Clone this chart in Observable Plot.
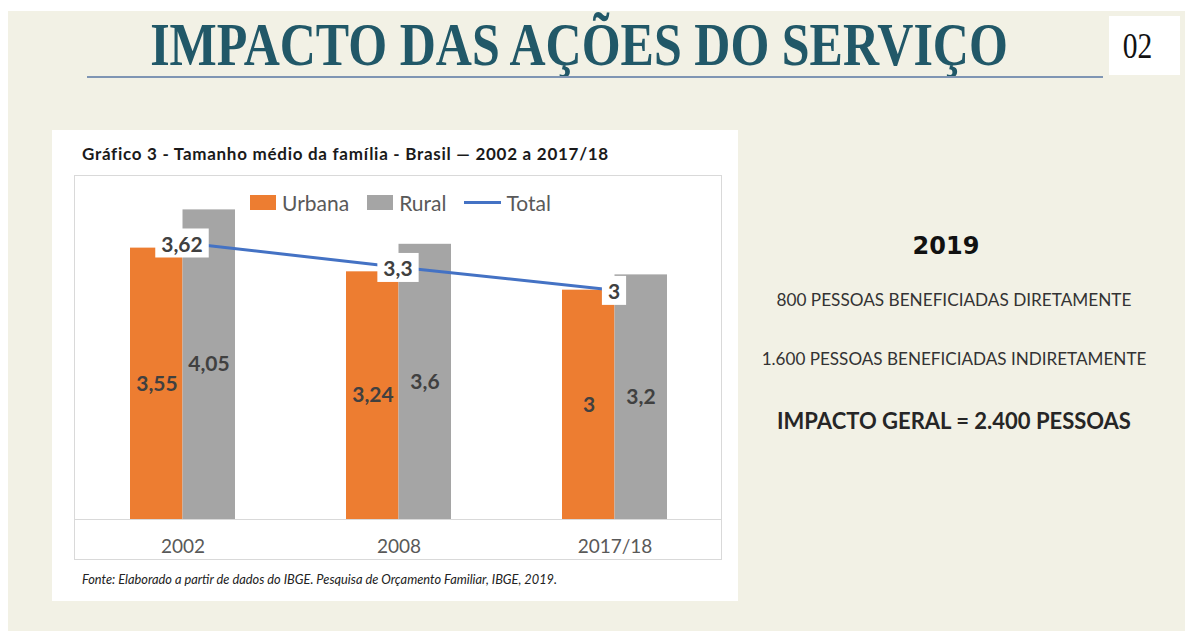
<!DOCTYPE html>
<html>
<head>
<meta charset="utf-8">
<script src="https://cdn.jsdelivr.net/npm/d3@7"></script>
<script src="https://cdn.jsdelivr.net/npm/@observablehq/plot@0.6"></script>
<style>
  html, body { margin: 0; padding: 0; }
  body { width: 1185px; height: 631px; background: #ffffff; position: relative; overflow: hidden; font-family: Lato, "Open Sans", sans-serif; }
  .abs { position: absolute; }
  #bg { left: 8px; top: 11px; right: 0; bottom: 0; background: #f2f1e5; }
  #numbox { left: 1109px; top: 16px; width: 71px; height: 59px; background: #fff; }
  #numtxt { position: absolute; left: 0; top: 0; width: 57px; height: 59px; font-family: "Liberation Serif", serif; font-size: 36px; color: #111; display: flex; align-items: center; justify-content: center; transform: scaleX(0.82); }
  #panel { left: 52px; top: 130px; width: 686px; height: 471px; background: #fff; }
  #ctitle { left: 82px; top: 143px; font-family: Lato, sans-serif; font-weight: bold; font-size: 17px; letter-spacing: 0.72px; color: #1a1a1a; white-space: nowrap; }
  #chart { left: 74px; top: 175px; width: 648px; height: 385px; }
  #frame { left: 74px; top: 175px; width: 648px; height: 385px; box-sizing: border-box; border: 1px solid #d9d9d9; pointer-events: none; }
  #legend { left: 250px; top: 189px; height: 26px; display: flex; align-items: center; font-family: Lato, sans-serif; font-size: 21px; color: #595959; white-space: nowrap; }
  .sw { display: inline-block; width: 26px; height: 15px; margin-right: 6px; }
  .ln { display: inline-block; width: 37px; height: 3px; margin-right: 5px; }
  .item { display: inline-flex; align-items: center; margin-right: 18px; }
  #source { left: 82px; top: 571px; font-family: Lato, sans-serif; font-style: italic; font-size: 12.8px; color: #222; white-space: nowrap; }
  .rt { left: 740px; width: 428px; text-align: center; white-space: nowrap; }
  #y2019 { top: 232px; width: 412px; font-family: "DejaVu Sans", sans-serif; font-weight: bold; font-size: 24px; color: #111; }
  #l1 { top: 289px; font-family: Lato, sans-serif; font-size: 17.2px; color: #333; }
  #l2 { top: 348px; font-family: Lato, sans-serif; font-size: 17.1px; color: #333; }
  #l3 { top: 407px; font-family: Lato, sans-serif; font-weight: bold; font-size: 22px; color: #262626; }
</style>
</head>
<body>
<div id="bg" class="abs"></div>
<svg class="abs" style="left:0;top:0" width="1105" height="90">
  <text id="maintitle" transform="translate(579,65)" text-anchor="middle" font-family="Liberation Serif, serif" font-weight="bold" font-size="62" fill="#215868"></text>
  <line x1="87" x2="1103" y1="77" y2="77" stroke="#7f95b3" stroke-width="2"/>
</svg>
<div id="numbox" class="abs"><div id="numtxt"></div></div>
<div id="panel" class="abs"></div>
<div id="ctitle" class="abs"></div>
<div id="chart" class="abs"></div>
<div id="frame" class="abs"></div>
<div id="legend" class="abs"></div>
<div id="source" class="abs"></div>
<div id="y2019" class="abs rt"></div>
<div id="l1" class="abs rt"></div>
<div id="l2" class="abs rt"></div>
<div id="l3" class="abs rt"></div>
<script>
// ---- data ----
const pageTitle = "IMPACTO DAS AÇÕES DO SERVIÇO";
const pageNumber = "02";
const chartTitle = "Gráfico 3 - Tamanho médio da família - Brasil — 2002 a 2017/18";
const sourceText = "Fonte: Elaborado a partir de dados do IBGE. Pesquisa de Orçamento Familiar, IBGE, 2019.";
const years = ["2002", "2008", "2017/18"];
const seriesNames = ["Urbana", "Rural", "Total"];
const urbana = [3.55, 3.24, 3.0];
const rural = [4.05, 3.6, 3.2];
const total = [3.62, 3.3, 3.0];
const sideYear = "2019";
const sideLines = [
  "800 PESSOAS BENEFICIADAS DIRETAMENTE",
  "1.600 PESSOAS BENEFICIADAS INDIRETAMENTE",
  "IMPACTO GERAL = 2.400 PESSOAS"
];

// ---- styling ----
const colors = {Urbana: "#ed7d31", Rural: "#a5a5a5", Total: "#4472c4"};
const fmt = v => String(v).replace(".", ",");

// condensed page title: squeeze the rendered text to the reference width
const mt = document.getElementById("maintitle");
mt.textContent = pageTitle;
const natural = mt.getComputedTextLength();
mt.setAttribute("transform", `translate(579,65) scale(${858 / natural},1)`);

document.getElementById("numtxt").textContent = pageNumber;
document.getElementById("ctitle").textContent = chartTitle;
document.getElementById("source").textContent = sourceText;
document.getElementById("y2019").textContent = sideYear;
document.getElementById("l1").textContent = sideLines[0];
document.getElementById("l2").textContent = sideLines[1];
document.getElementById("l3").textContent = sideLines[2];

// legend
const leg = document.getElementById("legend");
seriesNames.forEach(name => {
  const it = document.createElement("span");
  it.className = "item";
  const sw = document.createElement("span");
  sw.className = name === "Total" ? "ln" : "sw";
  sw.style.background = colors[name];
  it.appendChild(sw);
  it.appendChild(document.createTextNode(name));
  leg.appendChild(it);
});

const uRows = years.map((y, i) => ({year: y, value: urbana[i]}));
const rRows = years.map((y, i) => ({year: y, value: rural[i]}));
const tRows = years.map((y, i) => ({year: y, value: total[i]}));

const plot = Plot.plot({
  width: 648,
  height: 385,
  marginLeft: 0,
  marginRight: 0,
  marginTop: 0,
  marginBottom: 41,
  style: {fontFamily: "Lato, sans-serif", fontSize: "19px", color: "#595959", background: "transparent", overflow: "visible"},
  x: {domain: years, paddingInner: 0.514, paddingOuter: 0.257, tickSize: 0, tickPadding: 20, label: null},
  y: {domain: [0, 4.5], axis: null},
  marks: [
    Plot.barY(uRows, {x: "year", y: "value", fill: colors.Urbana, insetRight: 52.5}),
    Plot.barY(rRows, {x: "year", y: "value", fill: colors.Rural, insetLeft: 52.5}),
    Plot.ruleY([0], {stroke: "#d9d9d9", strokeWidth: 1}),
    Plot.lineY(tRows, {x: "year", y: "value", stroke: colors.Total, strokeWidth: 3}),
    Plot.text(tRows, {x: "year", y: "value", text: d => fmt(d.value), fontSize: 21, fontWeight: "bold", fill: "#404040", dx: -1, dy: 2, className: "totlab"}),
    Plot.text(uRows, {x: "year", y: d => d.value / 2, text: d => fmt(d.value), fontSize: 21, fontWeight: "bold", fill: "#404040", dx: -26}),
    Plot.text(rRows, {x: "year", y: d => d.value / 2, text: d => fmt(d.value), fontSize: 21, fontWeight: "bold", fill: "#404040", dx: 26})
  ]
});
document.getElementById("chart").appendChild(plot);

// white boxes behind the total labels, sized from the rendered text
d3.select(plot).selectAll("g.totlab text").each(function () {
  const bb = this.getBBox();
  const padX = 6, padY = 2;
  const r = document.createElementNS("http://www.w3.org/2000/svg", "rect");
  r.setAttribute("x", bb.x - padX);
  r.setAttribute("y", bb.y - padY);
  r.setAttribute("width", bb.width + 2 * padX);
  r.setAttribute("height", bb.height + 2 * padY);
  r.setAttribute("fill", "#ffffff");
  const t = this.getAttribute("transform");
  if (t) r.setAttribute("transform", t);
  this.parentNode.insertBefore(r, this);
});
</script>
</body>
</html>
